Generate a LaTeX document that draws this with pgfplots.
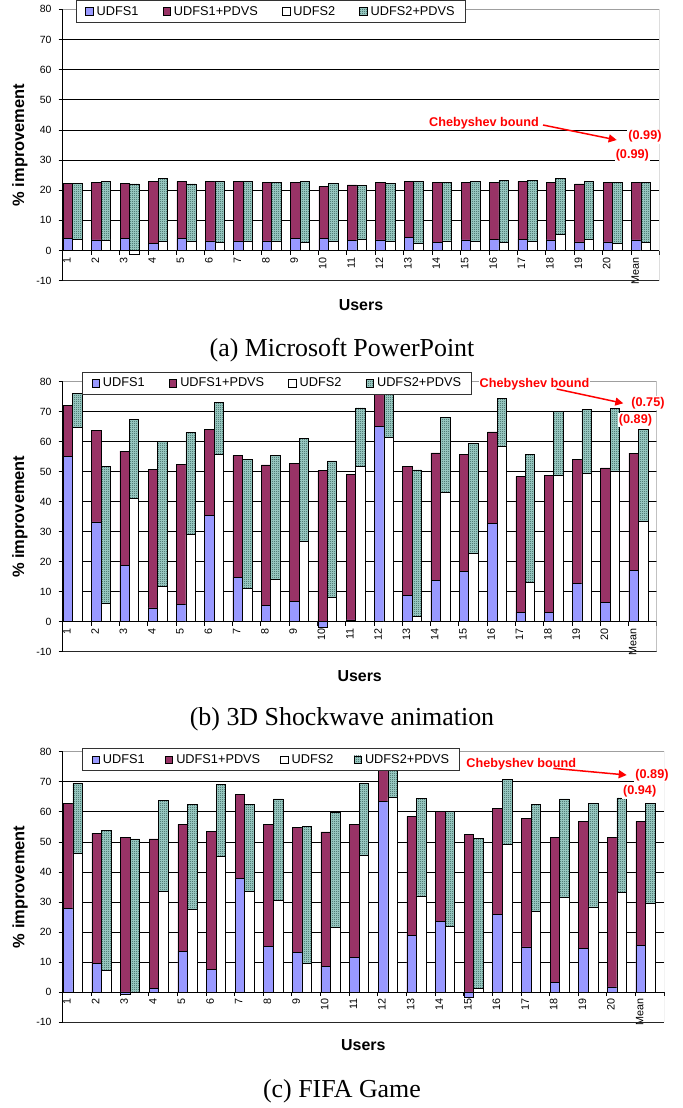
\documentclass[border=0pt]{standalone}
\usepackage{fontspec}
\setmainfont{Liberation Sans}
\newfontfamily\capfont{Liberation Serif}
\usepackage{pgfplots}
\pgfplotsset{compat=1.18}
\usepackage{pgfplotstable}
\usetikzlibrary{patterns,arrows.meta}

\definecolor{udfsA}{HTML}{9999FF}
\definecolor{udfsB}{HTML}{993366}
\definecolor{hatchfg}{HTML}{264F4A}
\definecolor{hatchbg}{HTML}{A6D6CF}
\definecolor{cheb}{HTML}{FF0000}

\pgfdeclarepatternformonly{checker}{\pgfpointorigin}{\pgfqpoint{2bp}{2bp}}{\pgfqpoint{2bp}{2bp}}{%
  \pgfpathrectangle{\pgfpointorigin}{\pgfqpoint{1bp}{1bp}}%
  \pgfpathrectangle{\pgfqpoint{1bp}{1bp}}{\pgfqpoint{1bp}{1bp}}%
  \pgfusepath{fill}}

\newcommand{\fs}[1]{\fontsize{#1}{#1}\selectfont}

% u1 = UDFS1, t1 = UDFS1+PDVS (top), u2 = UDFS2, t2 = UDFS2+PDVS (top)
\pgfplotstableread{
u1 t1 u2 t2
4.1 22.3 3.8 22.3
3.5 22.7 3.5 22.9
3.9 22.3 -1.3 22.1
2.4 22.9 3.0 24.0
3.9 22.9 3.0 22.1
3.2 22.9 2.8 22.9
3.2 22.9 3.0 22.9
3.2 22.7 3.0 22.7
3.9 22.7 2.8 22.9
3.9 21.2 3.0 22.2
3.3 21.8 3.8 21.6
3.5 22.5 3.0 22.2
4.4 22.9 2.4 22.9
2.7 22.7 3.2 22.7
3.5 22.7 3.0 22.9
3.8 22.7 2.8 23.3
3.8 22.9 3.0 23.3
3.5 22.7 5.4 24.0
2.9 22.1 3.8 22.9
2.9 22.7 2.4 22.5
3.5 22.7 2.8 22.7
}\dataA

\pgfplotstableread{
u1 t1 u2 t2
55.0 72.0 64.8 76.1
33.3 63.8 6.0 51.7
18.8 56.9 41.0 67.4
4.6 50.9 11.7 60.0
5.8 52.4 29.0 63.1
35.4 64.1 55.9 73.1
14.8 55.4 11.0 54.2
5.4 52.3 14.2 55.4
6.9 52.7 26.9 61.2
-2.0 50.4 8.1 53.6
0.6 49.2 51.7 71.3
65.0 78.0 61.4 77.0
8.7 51.9 1.7 50.6
13.7 56.3 43.1 68.1
16.8 55.7 22.8 59.4
32.8 63.3 58.6 74.4
3.1 48.4 13.1 55.7
3.1 48.8 48.9 70.1
12.7 54.2 49.4 70.8
6.4 51.3 50.3 71.0
17.0 56.2 33.4 64.0
}\dataB

\pgfplotstableread{
u1 t1 u2 t2
27.8 62.8 46.1 69.5
9.4 52.9 7.1 53.9
-0.8 51.4 0.0 51.0
1.3 51.0 33.5 63.8
13.6 55.8 27.6 62.5
7.4 53.4 45.1 69.1
37.9 65.8 33.5 62.5
15.3 55.8 30.5 64.3
13.3 54.7 9.6 55.0
8.5 53.3 21.5 59.7
11.5 55.8 45.5 69.5
63.4 77.0 64.8 76.0
18.9 58.5 32.0 64.5
23.5 60.2 21.9 60.2
-1.9 52.5 1.3 51.1
25.7 61.2 49.2 70.7
15.0 57.8 26.8 62.5
3.3 51.5 31.6 64.3
14.6 56.8 28.3 62.8
1.7 51.5 33.2 64.6
15.5 56.8 29.5 62.8
}\dataC

\pgfplotsset{
  panel/.style={
    scale only axis,
    xmin=0, xmax=21, ymin=-10, ymax=80,
    axis x line=middle, axis y line=left,
    axis line style={-, black, line width=0.7bp},
    hide obscured x ticks=false, hide obscured y ticks=false,
    tick align=outside,
    major tick length=4bp, minor tick length=4bp,
    ytick={-10,0,10,20,30,40,50,60,70,80},
    yticklabels={-10,0,10,20,30,40,50,60,70,80},
    yticklabel style={font=\fs{10.5}, inner sep=1bp},
    yticklabel shift=6bp,
    y tick style={black, line width=0.6bp},
    extra y ticks={10,20,30,40,50,60,70},
    extra y tick labels={},
    extra y tick style={grid=major},
    major grid style={black, line width=0.6bp},
    xtick={0.15,1.15,2.15,3.15,4.15,5.15,6.15,7.15,8.15,9.15,10.15,11.15,12.15,13.15,14.15,15.15,16.15,17.15,18.15,19.15,20.15},
    xticklabels={1,2,3,4,5,6,7,8,9,10,11,12,13,14,15,16,17,18,19,20,Mean},
    xticklabel style={rotate=90, anchor=east, font=\fs{10.8}, inner sep=1bp},
    xticklabel shift=1.5bp,
    major x tick style={draw=none},
    minor xtick={0,1,...,21},
    minor x tick style={black, line width=0.6bp},
    xlabel={Users},
    xlabel style={font=\bfseries\fs{16}, anchor=center},
    ylabel={\% improvement},
    ylabel style={font=\bfseries\fs{16.5}, anchor=center},
    legend columns=4,
    legend cell align=left,
    legend style={anchor=north west, draw=black!80, line width=0.7bp, fill=white,
      font=\fs{12.8}, inner xsep=9bp, inner ysep=4.5bp,
      nodes={inner sep=1.2bp},
      /tikz/every even column/.append style={column sep=23bp}},
    legend image code/.code={\draw[#1, line width=0.5bp] (0bp,-3.8bp) rectangle (7.5bp,3.8bp); \path (9.5bp,0bp);},
    bb/.style={ybar, bar width=0.335, bar shift=0pt, draw=black, line width=0.6bp, forget plot},
  }
}

\newcommand{\legendimgs}{%
  \addlegendimage{fill=udfsA, draw=black}\addlegendentry{UDFS1}
  \addlegendimage{fill=udfsB, draw=black}\addlegendentry{UDFS1+PDVS}
  \addlegendimage{fill=white, draw=black}\addlegendentry{UDFS2}
  \addlegendimage{fill=hatchbg, draw=black, postaction={pattern=checker, pattern color=hatchfg}}\addlegendentry{UDFS2+PDVS}
}

\newcommand{\bars}[1]{%
  \addplot[bb, fill=udfsB] table[x expr=\coordindex+0.1875, y=t1]{#1};
  \addplot[bb, fill=udfsA] table[x expr=\coordindex+0.1875, y=u1]{#1};
  \addplot[bb, fill=hatchbg, postaction={pattern=checker, pattern color=hatchfg}] table[x expr=\coordindex+0.5225, y=t2]{#1};
  \addplot[bb, fill=white] table[x expr=\coordindex+0.5225, y=u2]{#1};
  \draw[gray!75, line width=0.7bp] (rel axis cs:0,1) -- (rel axis cs:1,1) -- (rel axis cs:1,0);
  \draw[black!85, line width=0.7bp] (rel axis cs:0,0) -- (rel axis cs:1,0);
}

\begin{document}
\begin{tikzpicture}
\useasboundingbox (0,0) rectangle (683bp,-1108bp);

% ---------- (a) ----------
\begin{axis}[panel, at={(62.7bp,-280.7bp)}, anchor=south west,
  width=596.6bp, height=271.4bp,
  xlabel style={at={(axis description cs:0.5,0)}, yshift=-24.3bp},
  ylabel style={at={(axis description cs:-0.0716,0.5)}},
  legend style={at={(0.0223,1.0332)}}]
\legendimgs
\bars{\dataA}
\end{axis}
\node[font=\capfont\fs{26}] at (342bp,-350bp) {(a) Microsoft PowerPoint};
\node[text=cheb, font=\bfseries\fs{12.7}, fill=white, inner sep=0.5bp] at (484bp,-123.3bp) {Chebyshev bound};
\draw[cheb, line width=1.5bp, -{Triangle[length=8bp,width=8bp]}] (543bp,-125bp) -- (616.7bp,-140bp);
\node[text=cheb, font=\bfseries\fs{12.7}, fill=white, inner sep=1bp] at (645bp,-136.7bp) {(0.99)};
\node[text=cheb, font=\bfseries\fs{12.7}, fill=white, inner sep=1bp] at (632.3bp,-155bp) {(0.99)};

% ---------- (b) ----------
\begin{axis}[panel, at={(62.7bp,-651.7bp)}, anchor=south west,
  width=594bp, height=270bp,
  xlabel style={at={(axis description cs:0.5,0)}, yshift=-24.3bp},
  ylabel style={at={(axis description cs:-0.0719,0.5)}},
  legend style={at={(0.033,1.036)}}]
\legendimgs
\bars{\dataB}
\end{axis}
\node[font=\capfont\fs{26}] at (342bp,-719bp) {(b) 3D Shockwave animation};
\node[text=cheb, font=\bfseries\fs{12.7}, fill=white, inner sep=1bp] at (534.5bp,-384.3bp) {Chebyshev bound};
\draw[cheb, line width=1.5bp, -{Triangle[length=8bp,width=8bp]}] (556.7bp,-389bp) -- (623.3bp,-403.3bp);
\node[text=cheb, font=\bfseries\fs{12.7}, fill=white, inner sep=1bp] at (648bp,-403.3bp) {(0.75)};
\node[text=cheb, font=\bfseries\fs{12.7}, fill=white, inner sep=1bp] at (635.5bp,-420bp) {(0.89)};

% ---------- (c) ----------
\begin{axis}[panel, at={(62.7bp,-1022bp)}, anchor=south west,
  width=601.3bp, height=270.3bp,
  xlabel style={at={(axis description cs:0.5,0)}, yshift=-23.5bp},
  ylabel style={at={(axis description cs:-0.071,0.5)}},
  legend style={at={(0.0326,1.0126)}, /tikz/every even column/.append style={column sep=19bp}}]
\legendimgs
\bars{\dataC}
\end{axis}
\node[font=\capfont\fs{26}] at (342bp,-1091.7bp) {(c) FIFA Game};
\node[text=cheb, font=\bfseries\fs{12.7}, inner sep=1bp] at (521.3bp,-764bp) {Chebyshev bound};
\draw[cheb, line width=1.5bp, -{Triangle[length=8bp,width=8bp]}] (553.3bp,-768.3bp) -- (626.7bp,-775bp);
\node[text=cheb, font=\bfseries\fs{12.7}, fill=white, inner sep=1bp] at (652bp,-775bp) {(0.89)};
\node[text=cheb, font=\bfseries\fs{12.7}, fill=white, inner sep=1bp] at (639.7bp,-791.7bp) {(0.94)};
\end{tikzpicture}
\end{document}
